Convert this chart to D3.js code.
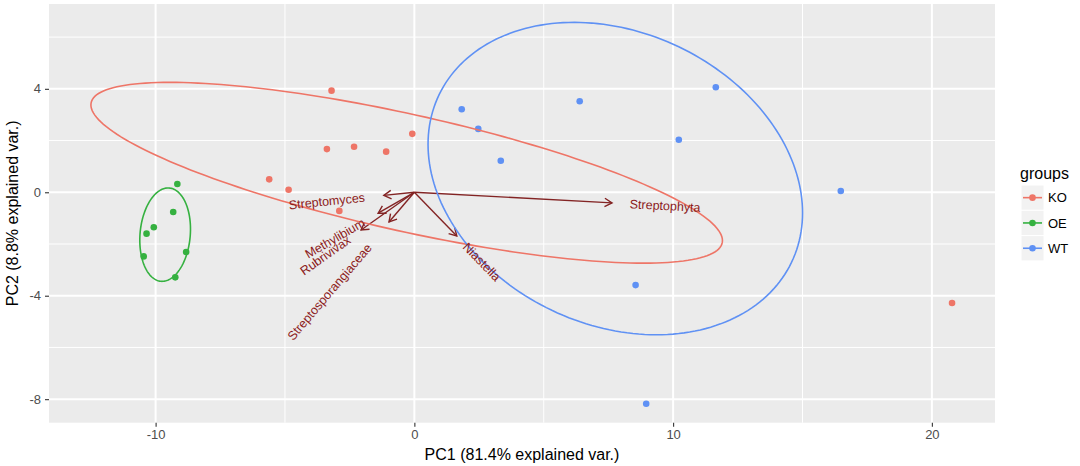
<!DOCTYPE html>
<html><head><meta charset="utf-8">
<script src="https://cdn.jsdelivr.net/npm/d3@7"></script>
<style>
body{margin:0;background:#fff;}
svg{display:block;font-family:"Liberation Sans",Arial,Helvetica,sans-serif;}
</style>
</head><body>
<svg id="chart" width="1080" height="466"></svg>
<script>
// ---------- data ----------
const groups = ["KO", "OE", "WT"];
const groupColors = ["#EE7567", "#35B140", "#5F91F4"];

const koX = [-3.20, -0.08, -3.38, -2.33, -1.09, -5.61, -4.86, -2.90, 20.78];
const koY = [ 3.93,  2.26,  1.67,  1.76,  1.57,  0.50,  0.10, -0.72, -4.28];

const oeX = [-9.16, -9.32, -10.07, -10.35, -10.46, -8.82, -9.24];
const oeY = [ 0.32, -0.76,  -1.35,  -1.60,  -2.48, -2.31, -3.29];

const wtX = [1.83, 2.47, 3.34, 6.39, 10.22, 11.65, 16.48,  8.55,  8.96];
const wtY = [3.21, 2.45, 1.22, 3.52,  2.03,  4.06,  0.05, -3.59, -8.18];

const varNames = ["Streptophyta", "Niastella", "Streptomyces", "Methylibium", "Rubrivivax", "Streptosporangiaceae"];
const varX = [7.64,  1.64, -1.18, -1.40, -2.06, -0.98];
const varY = [-0.41, -1.69, -0.12, -0.81, -1.46, -1.15];

const xTicks = [-10, 0, 10, 20];
const yTicks = [-8, -4, 0, 4];
const xMinor = [-5, 5, 15];
const yMinor = [-6, -2, 2, 6];

const xLabel = "PC1 (81.4% explained var.)";
const yLabel = "PC2 (8.8% explained var.)";
const legendTitle = "groups";

// ---------- layout ----------
const panel = {left: 49, right: 995, top: 4, bottom: 422.7};
const xDomain = [-14.12, 22.44];
const yDomain = [-8.91, 7.28];

const x = d3.scaleLinear().domain(xDomain).range([panel.left, panel.right]);
const y = d3.scaleLinear().domain(yDomain).range([panel.bottom, panel.top]);
const color = d3.scaleOrdinal().domain(groups).range(groupColors);

const svg = d3.select("#chart");

svg.append("defs").append("clipPath").attr("id", "clip")
  .append("rect").attr("x", panel.left).attr("y", panel.top)
  .attr("width", panel.right - panel.left).attr("height", panel.bottom - panel.top);

// panel background
svg.append("rect").attr("x", panel.left).attr("y", panel.top)
  .attr("width", panel.right - panel.left).attr("height", panel.bottom - panel.top)
  .attr("fill", "#EBEBEB");

const grid = svg.append("g");
grid.selectAll(".vmin").data(xMinor).join("line")
  .attr("x1", d => x(d)).attr("x2", d => x(d)).attr("y1", panel.top).attr("y2", panel.bottom)
  .attr("stroke", "#fff").attr("stroke-width", 1);
grid.selectAll(".hmin").data(yMinor).join("line")
  .attr("y1", d => y(d)).attr("y2", d => y(d)).attr("x1", panel.left).attr("x2", panel.right)
  .attr("stroke", "#fff").attr("stroke-width", 1);
grid.selectAll(".vmaj").data(xTicks).join("line")
  .attr("x1", d => x(d)).attr("x2", d => x(d)).attr("y1", panel.top).attr("y2", panel.bottom)
  .attr("stroke", "#fff").attr("stroke-width", 2);
grid.selectAll(".hmaj").data(yTicks).join("line")
  .attr("y1", d => y(d)).attr("y2", d => y(d)).attr("x1", panel.left).attr("x2", panel.right)
  .attr("stroke", "#fff").attr("stroke-width", 2);

// axes
const xAxis = svg.append("g").attr("transform", `translate(0,${panel.bottom})`)
  .call(d3.axisBottom(x).tickValues(xTicks).tickSize(4).tickPadding(3).tickFormat(d3.format("d")));
const yAxis = svg.append("g").attr("transform", `translate(${panel.left},0)`)
  .call(d3.axisLeft(y).tickValues(yTicks).tickSize(4).tickPadding(4).tickFormat(d3.format("d")));
[xAxis, yAxis].forEach(a => {
  a.select(".domain").remove();
  a.selectAll(".tick line").attr("stroke", "#333").attr("stroke-width", 1.1);
  a.selectAll(".tick text").attr("fill", "#4D4D4D").style("font-size", "13px")
    .style("font-family", '"Liberation Sans",Arial,sans-serif');
});
// ggplot uses hyphen-minus
xAxis.selectAll(".tick text").text(d => String(d));
yAxis.selectAll(".tick text").text(d => String(d));

// axis titles
svg.append("text").attr("x", (panel.left + panel.right) / 2).attr("y", 460)
  .attr("text-anchor", "middle").style("font-size", "16px").attr("fill", "#000").text(xLabel);
svg.append("text").attr("transform", `translate(18,${(panel.top + panel.bottom) / 2}) rotate(-90)`)
  .attr("text-anchor", "middle").style("font-size", "16px").attr("fill", "#000").text(yLabel);

const plot = svg.append("g").attr("clip-path", "url(#clip)");

// arrows
const arrowColor = "#832424";
const vars = varNames.map((n, i) => ({name: n, vx: varX[i], vy: varY[i]}));
const headLen = 8.5, headAng = Math.PI / 6;
vars.forEach(v => {
  const x0 = x(0), y0 = y(0), x1 = x(v.vx), y1 = y(v.vy);
  plot.append("line").attr("x1", x0).attr("y1", y0).attr("x2", x1).attr("y2", y1)
    .attr("stroke", arrowColor).attr("stroke-width", 1.4);
  const a = Math.atan2(y1 - y0, x1 - x0);
  const p1 = [x1 - headLen * Math.cos(a - headAng), y1 - headLen * Math.sin(a - headAng)];
  const p2 = [x1 - headLen * Math.cos(a + headAng), y1 - headLen * Math.sin(a + headAng)];
  plot.append("path").attr("d", `M${p1[0]},${p1[1]}L${x1},${y1}L${p2[0]},${p2[1]}`)
    .attr("fill", "none").attr("stroke", arrowColor).attr("stroke-width", 1.4);
});

// points
const groupData = [
  {g: "KO", xs: koX, ys: koY},
  {g: "OE", xs: oeX, ys: oeY},
  {g: "WT", xs: wtX, ys: wtY}
];
groupData.forEach(gd => {
  const pts = gd.xs.map((v, i) => [v, gd.ys[i]]);
  plot.selectAll(null).data(pts).join("circle")
    .attr("cx", d => x(d[0])).attr("cy", d => y(d[1])).attr("r", 3.3)
    .attr("fill", color(gd.g));
});

// 68% normal data ellipses (as ggbiplot)
const ed = Math.sqrt(-2 * Math.log(1 - 0.68));
function ellipsePts(xs, ys) {
  const n = xs.length;
  const mx = d3.mean(xs), my = d3.mean(ys);
  let sxx = 0, syy = 0, sxy = 0;
  for (let i = 0; i < n; i++) {
    sxx += (xs[i] - mx) ** 2; syy += (ys[i] - my) ** 2; sxy += (xs[i] - mx) * (ys[i] - my);
  }
  sxx /= (n - 1); syy /= (n - 1); sxy /= (n - 1);
  const a = Math.sqrt(sxx), b = sxy / a, c = Math.sqrt(syy - b * b);
  const out = [];
  for (let k = 0; k <= 200; k++) {
    const t = -Math.PI + 2 * Math.PI * k / 200;
    const ct = Math.cos(t), st = Math.sin(t);
    out.push([mx + ed * a * ct, my + ed * (b * ct + c * st)]);
  }
  return out;
}
const line = d3.line().x(d => x(d[0])).y(d => y(d[1]));
groupData.forEach(gd => {
  plot.append("path").attr("d", line(ellipsePts(gd.xs, gd.ys)))
    .attr("fill", "none").attr("stroke", color(gd.g)).attr("stroke-width", 1.6);
});

// variable labels
vars.forEach(v => {
  const ang = Math.atan(v.vy / v.vx) * 180 / Math.PI;
  const t = svg.append("text")
    .attr("transform", `translate(${x(v.vx)},${y(v.vy)}) rotate(${-ang})`)
    .attr("dy", "0.35em").style("font-size", "12.5px").attr("fill", "#8B1A1A")
    .text(v.name);
  const w = t.node().getComputedTextLength();
  if (v.vx > 0) t.attr("text-anchor", "start").attr("x", 0.25 * w);
  else t.attr("text-anchor", "end").attr("x", -0.25 * w);
});

// legend
const lg = svg.append("g");
lg.append("text").attr("x", 1020).attr("y", 179).style("font-size", "16px").attr("fill", "#000").text(legendTitle);
const keyTop = 185, keyH = 25.3, keyW = 23, keyX = 1021;
groups.forEach((g, i) => {
  const ky = keyTop + i * keyH;
  lg.append("rect").attr("x", keyX).attr("y", ky).attr("width", keyW).attr("height", keyH)
    .attr("fill", "#F2F2F2").attr("stroke", "#fff").attr("stroke-width", 1);
  lg.append("line").attr("x1", keyX + 2).attr("x2", keyX + keyW - 2)
    .attr("y1", ky + keyH / 2).attr("y2", ky + keyH / 2)
    .attr("stroke", color(g)).attr("stroke-width", 1.6);
  lg.append("circle").attr("cx", keyX + keyW / 2).attr("cy", ky + keyH / 2).attr("r", 3.3).attr("fill", color(g));
  lg.append("text").attr("x", 1048).attr("y", ky + keyH / 2).attr("dy", "0.35em")
    .style("font-size", "13px").attr("fill", "#000").text(g);
});
</script>
</body></html>
